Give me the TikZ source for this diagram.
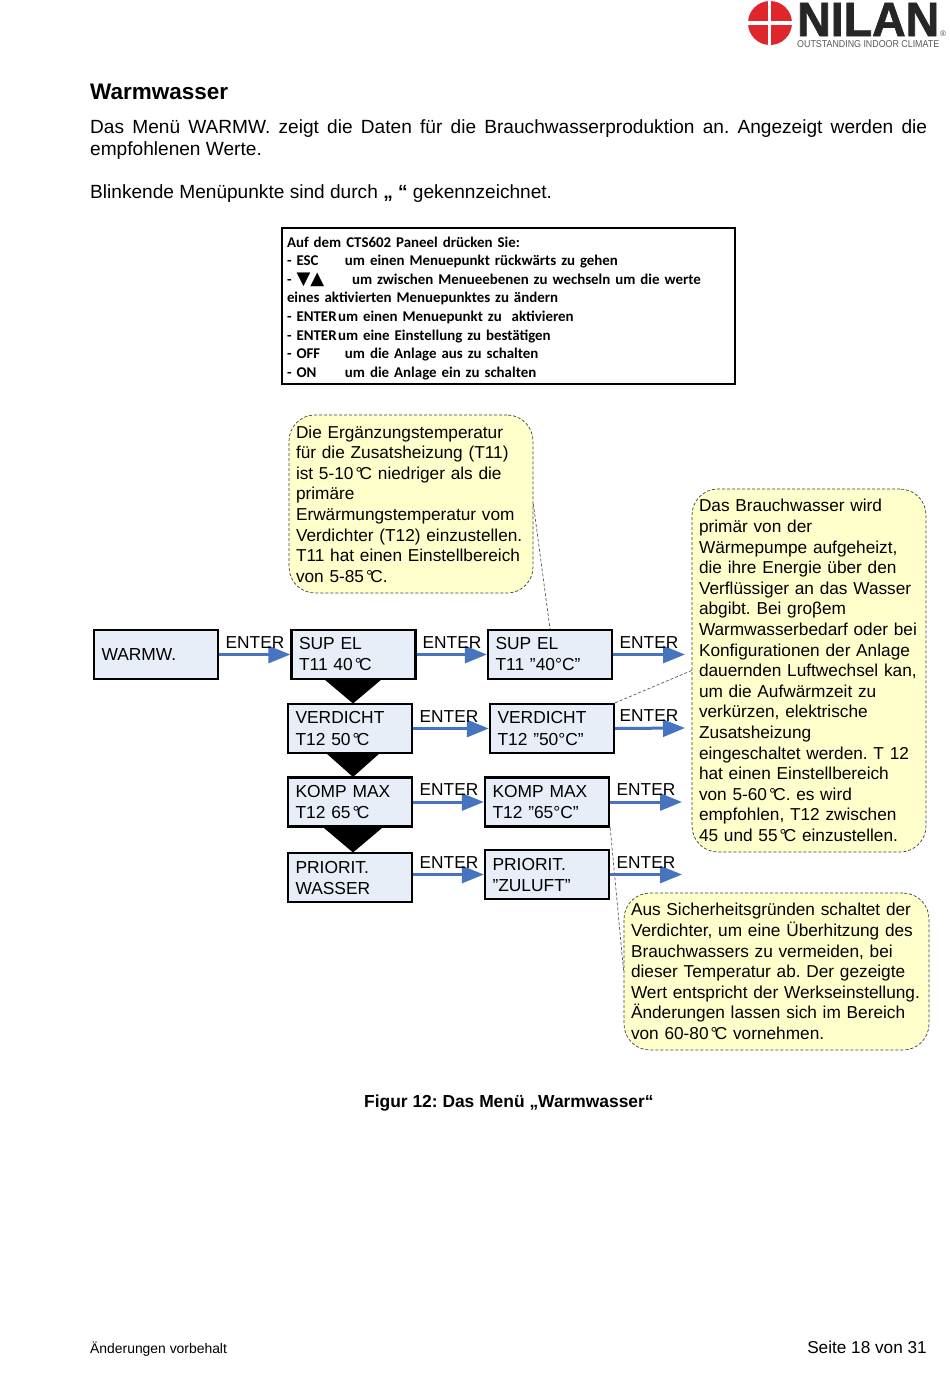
\documentclass[tikz,border=0pt]{standalone}
\usepackage{fontspec}
\setmainfont{Liberation Sans}
\newfontfamily\carl{Carlito}
\newfontfamily\dejav{DejaVu Sans}
\usetikzlibrary{arrows.meta}
\definecolor{boxfill}{HTML}{E8EEF7}
\definecolor{calloutfill}{HTML}{FFFFCC}
\definecolor{arrowblue}{HTML}{4674BE}
\definecolor{nilanred}{HTML}{E0262D}
\newcommand{\dgc}{\kern.12em°\kern-.16em C}
\AtBeginDocument{\frenchspacing}
\tikzset{
  x=1pt,y=-1pt,
  menubox/.style={draw=black,line width=2.3pt,fill=boxfill,minimum width=#1,text width={#1-15pt},inner xsep=7.5pt,inner ysep=0pt,align=left,font=\fontsize{17.4}{21}\selectfont},
  menubox/.default=124pt,
  wedge/.style={fill=black,draw=none},
  go/.style={draw=arrowblue,line width=3pt,-{Triangle[length=22pt,width=17pt,fill=arrowblue]}},
  enterlabel/.style={anchor=base west,inner sep=0pt,font=\fontsize{17.3}{21}\selectfont},
  callout/.style={draw=black!75,dash pattern=on 3pt off 2pt,line width=.7pt,fill=calloutfill,rounded corners=26pt,inner xsep=7pt,inner ysep=0pt,align=left,text width={#1-14pt},font=\fontsize{17.25}{20.6}\selectfont},
  leader/.style={draw=black!65,dash pattern=on 3pt off 2pt,line width=.7pt},
  plain/.style={anchor=base west,inner sep=0pt},
}
\begin{document}
\begin{tikzpicture}
\useasboundingbox[fill=white] (0,0) rectangle (950,1379);
% logo
\fill[nilanred] (770,23) circle (22);
\fill[white] (767.5,0) rectangle (771,46);
\fill[white] (747,21) rectangle (793,24.5);
\node[plain,text=black!85] (brand) at (797,36) {\resizebox{142pt}{33pt}{\bfseries\addfontfeature{FakeBold=1.5}NILAN}};
\node[plain,text=black!65] (tagline) at (797,47) {\resizebox{142pt}{7pt}{OUTSTANDING INDOOR CLIMATE}};
\node[plain,text=black!70,font=\fontsize{8}{8}\selectfont] (reg) at (940,36) {®};
% page text
\node[plain,font=\fontsize{22.5}{24}\bfseries\selectfont] (head) at (90,99.5) {Warmwasser};
\node[anchor=north west,inner sep=0pt,text width=837pt,align=justify,font=\fontsize{19.1}{22}\selectfont] (para) at (90,119.5) {Das Menü WARMW. zeigt die Daten für die Brauchwasserproduktion an. Angezeigt werden die\linebreak[4] empfohlenen Werte.};
\node[plain,font=\fontsize{19.1}{22}\selectfont] (blink) at (90,198.5) {Blinkende Menüpunkte sind durch {\bfseries „ “} gekennzeichnet.};
% instruction box
\node[draw=black,line width=2pt,minimum width=453pt,minimum height=156pt,text width=443pt,inner xsep=5pt,inner ysep=0pt,align=left,font=\carl\bfseries\fontsize{14.9}{18.6}\selectfont] (keys) at (508.5,306) {\rule{0pt}{15pt}Auf dem CTS602 Paneel drücken Sie:\\
\makebox[58pt][l]{- ESC}um einen Menuepunkt rückwärts zu gehen\\
\makebox[65pt][l]{- \smash{\dejav\fontsize{18}{18}\selectfont ▼▲}}um zwischen Menueebenen zu wechseln um die werte\\
eines aktivierten Menuepunktes zu ändern\\
\makebox[51pt][l]{- ENTER}um einen Menuepunkt zu\ \ aktivieren\\
\makebox[51pt][l]{- ENTER}um eine Einstellung zu bestätigen\\
\makebox[58pt][l]{- OFF}um die Anlage aus zu schalten\\
\makebox[58pt][l]{- ON}um die Anlage ein zu schalten};
% callouts
\node[callout=244pt,minimum height=178pt] (noteA) at (411,504) {Die Ergänzungstemperatur\\für die Zusatsheizung (T11)\\ist 5-10\dgc{} niedriger als die\\primäre\\Erwärmungstemperatur vom\\Verdichter (T12) einzustellen.\\T11 hat einen Einstellbereich\\von 5-85\dgc.};
\node[callout=234pt,minimum height=363pt] (noteB) at (809,670.5) {Das Brauchwasser wird\\primär von der\\Wärmepumpe aufgeheizt,\\die ihre Energie über den\\Verflüssiger an das Wasser\\abgibt. Bei groβem\\Warmwasserbedarf oder bei\\Konfigurationen der Anlage\\dauernden Luftwechsel kan,\\um die Aufwärmzeit zu\\verkürzen, elektrische\\Zusatsheizung\\eingeschaltet werden. T 12\\hat einen Einstellbereich\\von 5-60\dgc. es wird\\empfohlen, T12 zwischen\\45 und 55\dgc{} einzustellen.};
\node[callout=305pt,minimum height=157pt] (noteC) at (776.5,971.5) {Aus Sicherheitsgründen schaltet der\\Verdichter, um eine Überhitzung des\\Brauchwassers zu vermeiden, bei\\dieser Temperatur ab. Der gezeigte\\Wert entspricht der Werkseinstellung.\\Änderungen lassen sich im Bereich\\von 60-80\dgc{} vornehmen.};
% menu boxes
\node[menubox,minimum height=49pt] (warm) at (156,654.5) {WARMW.};
\node[menubox,minimum height=49pt] (sup1) at (353.5,654.5) {SUP EL\\T11 40\dgc};
\node[menubox,minimum height=49pt] (verd1) at (350,728.5) {VERDICHT\\T12 50\dgc};
\node[menubox,minimum height=49pt] (komp1) at (350,802) {KOMP MAX\\T12 65\dgc};
\node[menubox,minimum height=49pt] (prio1) at (350,877.5) {PRIORIT.\\WASSER};
\node[menubox,minimum height=49pt] (sup2) at (550,654.5) {SUP EL\\T11 ”40°C”};
\node[menubox,minimum height=49pt] (verd2) at (552,728.5) {VERDICHT\\T12 ”50°C”};
\node[menubox,minimum height=49pt] (komp2) at (547,802) {KOMP MAX\\T12 ”65°C”};
\node[menubox,minimum height=49pt] (prio2) at (547,874.5) {PRIORIT.\\”ZULUFT”};
% leaders
\draw[leader] (noteA.east) -- (sup2.north);
\draw[leader] (noteB.west) -- (verd2.north east);
\draw[leader] (komp2.south east) -- (noteC.west);
% wedges
\fill[wedge] (324,679) -- (382,679) -- (353,703.5) -- cycle;
\fill[wedge] (326,753) -- (380,753) -- (353,777) -- cycle;
\fill[wedge] (324,828) -- (382,828) -- (353,852.5) -- cycle;
% free ends
\coordinate (end1) at (685,654.5);
\coordinate (end2) at (685,728);
\coordinate (end3) at (682,802);
\coordinate (end4) at (682,874.5);
% arrows
\draw[go] (warm.east) -- (sup1.west);
\draw[go] (sup1.east) -- (sup2.west);
\draw[go] (verd1.east) -- (verd2.west);
\draw[go] (komp1.east) -- (komp2.west);
\draw[go] (prio1.east |- prio2.west) -- (prio2.west);
\draw[go] (sup2.east) -- (end1);
\draw[go] (verd2.east) -- (end2);
\draw[go] (komp2.east) -- (end3);
\draw[go] (prio2.east) -- (end4);
% ENTER labels
\node[enterlabel] (l1) at (225.5,648) {ENTER};
\node[enterlabel] (l2) at (422.5,648) {ENTER};
\node[enterlabel] (l3) at (419.5,722) {ENTER};
\node[enterlabel] (l4) at (419.5,795) {ENTER};
\node[enterlabel] (l5) at (419.5,868) {ENTER};
\node[enterlabel] (l6) at (619.5,648) {ENTER};
\node[enterlabel] (l7) at (619.5,721) {ENTER};
\node[enterlabel] (l8) at (616.5,795) {ENTER};
\node[enterlabel] (l9) at (616.5,868) {ENTER};
% caption and footer
\node[plain,font=\fontsize{17.4}{19}\bfseries\selectfont] (cap) at (364,1107) {Figur 12: Das Menü „Warmwasser“};
\node[plain,font=\fontsize{13.9}{16}\selectfont] (footl) at (90,1353) {Änderungen vorbehalt};
\node[anchor=base east,inner sep=0pt,font=\fontsize{17.2}{19}\selectfont] (footr) at (927,1353) {Seite 18 von 31};
\end{tikzpicture}
\end{document}
